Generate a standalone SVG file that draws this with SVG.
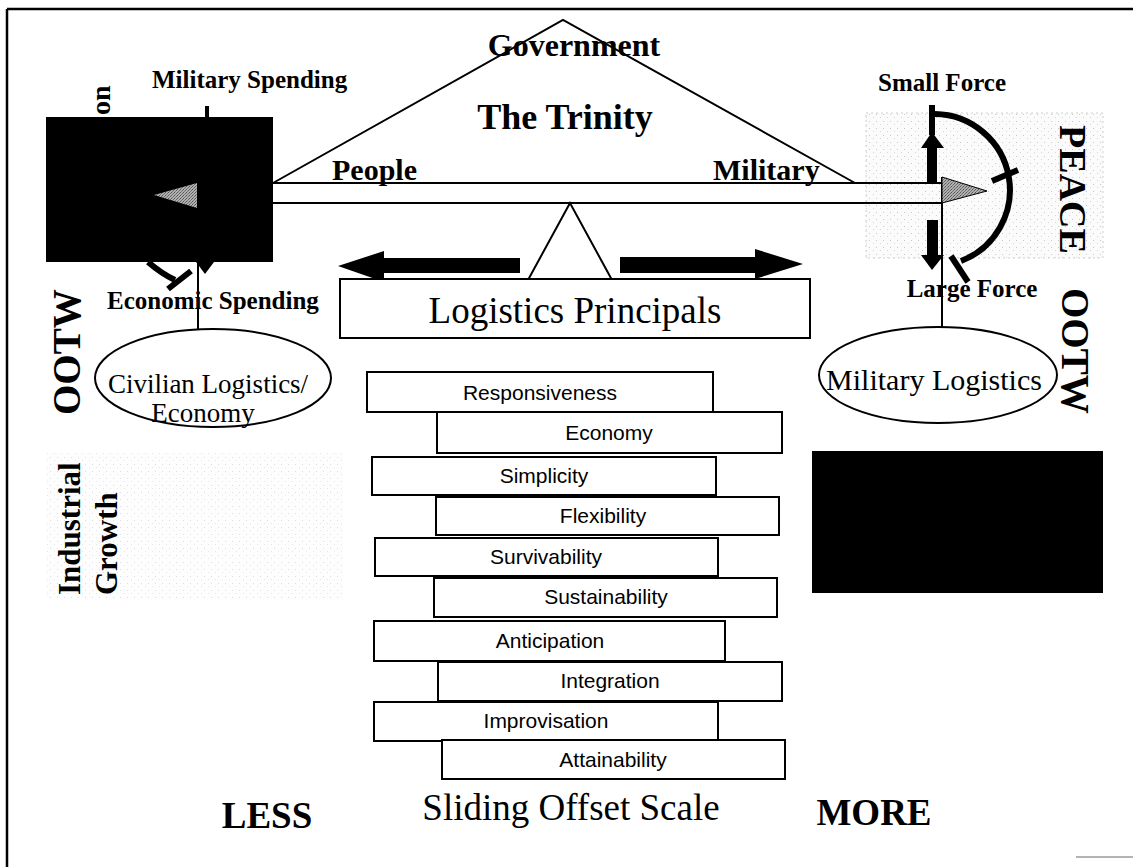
<svg xmlns="http://www.w3.org/2000/svg" width="1133" height="867" viewBox="0 0 1133 867">
  <defs>
    <pattern id="speckle" width="7" height="7" patternUnits="userSpaceOnUse">
      <rect width="7" height="7" fill="#fbfbfb"/>
      <rect x="1" y="2" width="1" height="1" fill="#c8c8c8"/>
      <rect x="5" y="5" width="1" height="1" fill="#d6d6d6"/>
    </pattern>
    <pattern id="dither" width="3" height="3" patternUnits="userSpaceOnUse">
      <rect width="3" height="3" fill="#b0b0b0"/>
      <rect x="0" y="0" width="1" height="1" fill="#555"/>
      <rect x="2" y="1" width="1" height="1" fill="#666"/>
      <rect x="1" y="2" width="1" height="1" fill="#777"/>
    </pattern>
  </defs>
  <style>
    .serif { font-family: "Liberation Serif", "Times New Roman", serif; fill: #000; }
    .bold { font-weight: bold; }
    .sans { font-family: "Liberation Sans", Arial, sans-serif; fill: #000; font-size: 21px; }
    .thin { stroke: #000; stroke-width: 2; fill: none; }
    .box { fill: #fff; stroke: #000; stroke-width: 2; }
    .heavy { stroke: #000; stroke-width: 6; fill: none; }
    .label { font-size: 25px; }
    .vert { font-size: 39px; }
  </style>

  <rect width="1133" height="867" fill="#fff"/>

  <!-- page frame -->
  <g id="frame">
    <line x1="7" y1="9" x2="1133" y2="9" stroke="#000" stroke-width="2.5"/>
    <line x1="7" y1="9" x2="7" y2="867" stroke="#000" stroke-width="2.5"/>
    <line x1="1076" y1="857" x2="1133" y2="857" stroke="#9a9a9a" stroke-width="1.5"/>
  </g>

  <!-- faint shaded backgrounds -->
  <rect x="47" y="453" width="296" height="147" fill="url(#speckle)" opacity="0.6"/>
  <rect x="866" y="113" width="237" height="145" fill="url(#speckle)" stroke="#cfcfcf" stroke-width="1" stroke-dasharray="2 3"/>

  <!-- connectors: balance beam, supports and leader lines -->
  <g id="connectors">
    <polyline class="thin" points="273,183 563,20 855,183"/>
    <line class="thin" x1="273" y1="183" x2="942" y2="183"/>
    <line class="thin" x1="273" y1="203" x2="942" y2="203"/>
    <line class="thin" x1="198" y1="262" x2="198" y2="329"/>
    <line class="thin" x1="942" y1="177" x2="942" y2="327"/>
    <line x1="207" y1="106" x2="207" y2="118" stroke="#000" stroke-width="4"/>
  </g>

  <!-- side label partly hidden behind the black block -->
  <g id="side-label">
    <text class="serif bold" font-size="28" transform="translate(110,115) rotate(-90)">on</text>
  </g>

  <!-- left block with pointer -->
  <g id="left-block">
    <rect x="46" y="117" width="227" height="145" fill="#000"/>
    <polygon points="154,195 197,183 197,208" fill="url(#dither)"/>
    <polygon points="196,262 214,262 205,274" fill="#000"/>
    <path class="heavy" d="M148,262 Q162,274 175,280"/>
    <line class="heavy" x1="168" y1="289" x2="191" y2="271"/>
  </g>

  <!-- trinity -->
  <g id="trinity">
    <text class="serif bold" font-size="32" x="574" y="56" text-anchor="middle">Government</text>
    <text class="serif bold" font-size="36" x="565" y="129" text-anchor="middle">The Trinity</text>
    <text class="serif bold" font-size="30" x="332" y="180">People</text>
    <text class="serif bold" font-size="30" x="713" y="180">Military</text>
  </g>

  <!-- spending labels -->
  <g id="military-spending">
    <text class="serif bold label" x="152" y="88">Military Spending</text>
  </g>
  <g id="economic-spending">
    <text class="serif bold label" x="107" y="309">Economic Spending</text>
  </g>

  <!-- fulcrum -->
  <g id="fulcrum">
    <polygon class="box" points="570,203 528,280 612,280"/>
  </g>

  <!-- sliding arrows -->
  <g id="slide-arrows">
    <polygon fill="#000" points="338,266 384,251 384,258 520,258 520,273 384,273 384,282"/>
    <polygon fill="#000" points="803,264 755,249 755,257 620,257 620,273 755,273 755,279"/>
  </g>

  <!-- logistics principals -->
  <g id="logistics-principals">
    <rect class="box" x="340" y="279" width="470" height="59"/>
    <text class="serif" font-size="37" x="575" y="323" text-anchor="middle">Logistics Principals</text>
  </g>

  <!-- force gauge on the right -->
  <g id="force-gauge">
    <text class="serif bold label" x="942" y="91" text-anchor="middle">Small Force</text>
    <text class="serif bold label" x="972" y="297" text-anchor="middle">Large Force</text>
    <polygon points="942,177 987,191 942,203" fill="url(#dither)" stroke="#000" stroke-width="1"/>
    <path class="heavy" d="M935,114 A76,76 0 0 1 961,261"/>
    <line class="heavy" x1="932" y1="105" x2="932" y2="135"/>
    <line class="heavy" x1="992" y1="181" x2="1018" y2="170"/>
    <line class="heavy" x1="951" y1="256" x2="968" y2="282"/>
    <rect x="927" y="147" width="10" height="36" fill="#000"/>
    <polygon points="921,148 932,132 944,148" fill="#000"/>
    <rect x="927" y="220" width="11" height="36" fill="#000"/>
    <polygon points="921,255 932,270 944,255" fill="#000"/>
  </g>

  <!-- vertical side labels -->
  <g id="peace">
    <text class="serif bold" font-size="38" transform="translate(1060,125) rotate(90)">PEACE</text>
  </g>
  <g id="ootw-right">
    <text class="serif bold vert" transform="translate(1062,288) rotate(90)">OOTW</text>
  </g>
  <g id="ootw-left">
    <text class="serif bold vert" transform="translate(80,415) rotate(-90)">OOTW</text>
  </g>
  <g id="industrial-growth">
    <text class="serif bold" font-size="31" transform="translate(80,595) rotate(-90)">Industrial</text>
    <text class="serif bold" font-size="31" transform="translate(117,595) rotate(-90)">Growth</text>
  </g>

  <!-- logistics ellipses -->
  <g id="civilian-logistics">
    <ellipse class="box" cx="213" cy="378" rx="118" ry="49"/>
    <text class="serif" font-size="27" x="208" y="393" text-anchor="middle">Civilian Logistics/</text>
    <text class="serif" font-size="27" x="203" y="422" text-anchor="middle">Economy</text>
  </g>
  <g id="military-logistics">
    <ellipse class="box" cx="938" cy="375" rx="119" ry="48"/>
    <text class="serif" font-size="30" x="934" y="390" text-anchor="middle">Military Logistics</text>
  </g>

  <!-- right block -->
  <g id="right-block">
    <rect x="812" y="451" width="291" height="142" fill="#000"/>
  </g>

  <!-- stacked principles -->
  <g id="p-responsiveness"><rect class="box" x="367" y="372" width="346" height="40"/><text class="sans" x="540" y="400" text-anchor="middle">Responsiveness</text></g>
  <g id="p-economy"><rect class="box" x="437" y="412" width="345" height="41"/><text class="sans" x="609" y="440" text-anchor="middle">Economy</text></g>
  <g id="p-simplicity"><rect class="box" x="372" y="457" width="344" height="38"/><text class="sans" x="544" y="483" text-anchor="middle">Simplicity</text></g>
  <g id="p-flexibility"><rect class="box" x="436" y="497" width="343" height="38"/><text class="sans" x="603" y="523" text-anchor="middle">Flexibility</text></g>
  <g id="p-survivability"><rect class="box" x="375" y="538" width="343" height="38"/><text class="sans" x="546" y="564" text-anchor="middle">Survivability</text></g>
  <g id="p-sustainability"><rect class="box" x="434" y="578" width="343" height="39"/><text class="sans" x="606" y="604" text-anchor="middle">Sustainability</text></g>
  <g id="p-anticipation"><rect class="box" x="374" y="621" width="351" height="40"/><text class="sans" x="550" y="648" text-anchor="middle">Anticipation</text></g>
  <g id="p-integration"><rect class="box" x="438" y="662" width="344" height="39"/><text class="sans" x="610" y="688" text-anchor="middle">Integration</text></g>
  <g id="p-improvisation"><rect class="box" x="374" y="702" width="344" height="39"/><text class="sans" x="546" y="728" text-anchor="middle">Improvisation</text></g>
  <g id="p-attainability"><rect class="box" x="442" y="740" width="343" height="39"/><text class="sans" x="613" y="767" text-anchor="middle">Attainability</text></g>

  <!-- scale captions -->
  <g id="scale-caption">
    <text class="serif bold" font-size="37" x="267" y="828" text-anchor="middle">LESS</text>
    <text class="serif" font-size="37" x="571" y="820" text-anchor="middle">Sliding Offset Scale</text>
    <text class="serif bold" font-size="37" x="874" y="825" text-anchor="middle">MORE</text>
  </g>
</svg>
